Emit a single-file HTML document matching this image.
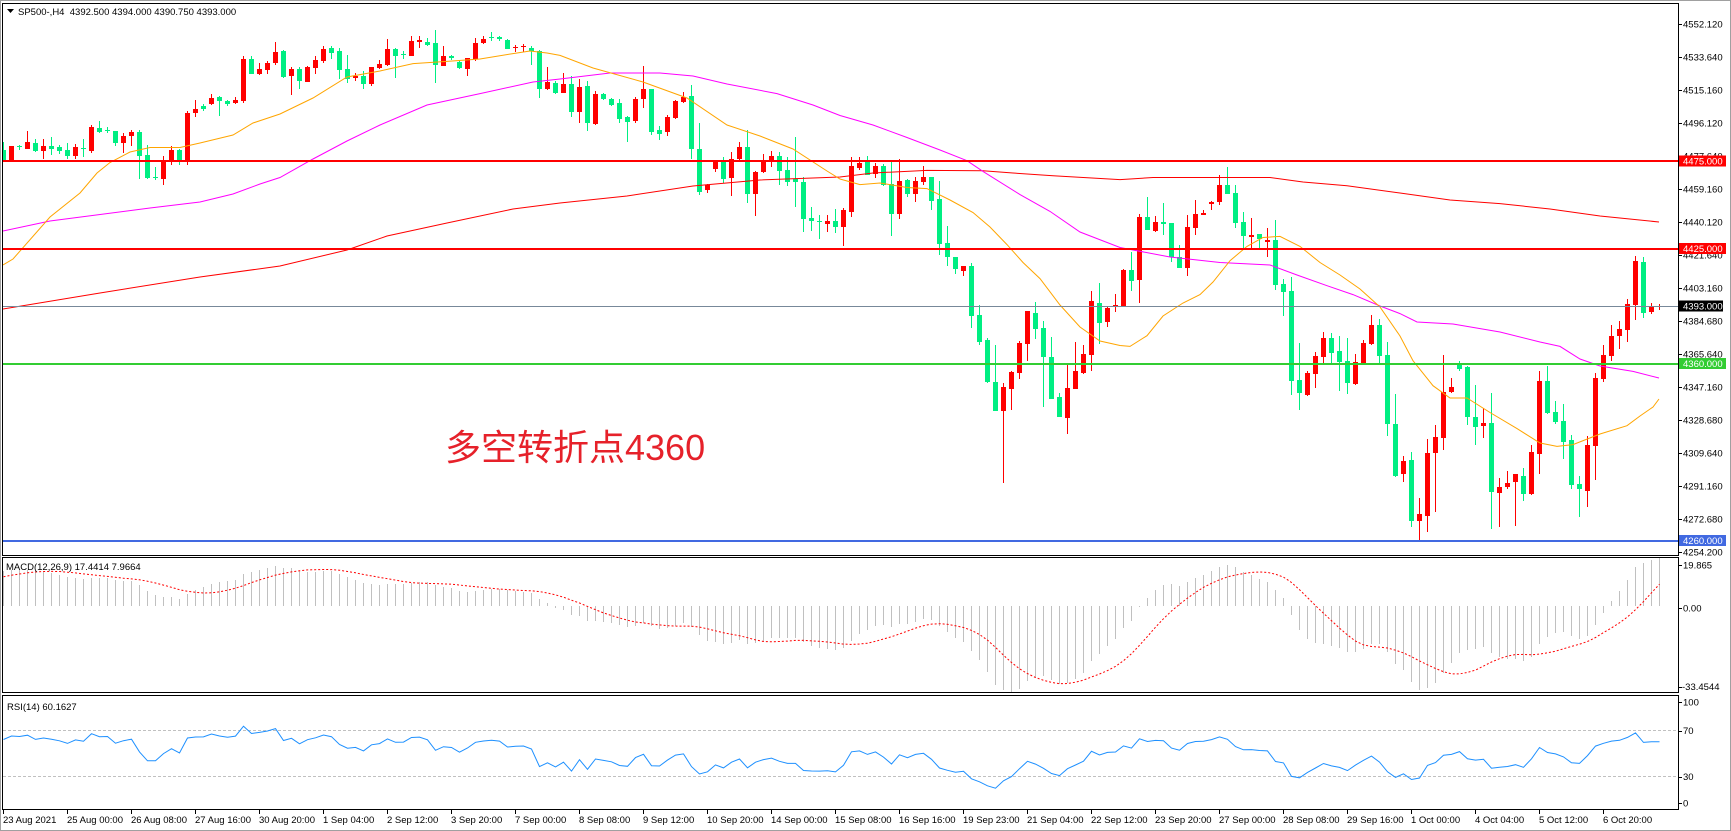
<!DOCTYPE html>
<html><head><meta charset="utf-8">
<style>
html,body{margin:0;padding:0;background:#fff;}
svg{display:block;}
text{font-family:"Liberation Sans",sans-serif;font-size:9.5px;fill:#000;}
</style></head>
<body>
<svg id="c" width="1731" height="831" viewBox="0 0 1731 831" xmlns="http://www.w3.org/2000/svg">
<defs>
<clipPath id="cm"><rect x="3" y="4" width="1675" height="551"/></clipPath>
<clipPath id="cd"><rect x="3" y="558" width="1675" height="134"/></clipPath>
<clipPath id="cr"><rect x="3" y="696" width="1675" height="113"/></clipPath>
</defs>
<rect width="1731" height="831" fill="#fff"/>
<g id="macdg" clip-path="url(#cd)"></g>
<g id="rsig" clip-path="url(#cr)">
<line x1="3" y1="730.5" x2="1678" y2="730.5" stroke="#c0c0c0" stroke-dasharray="3,2"/>
<line x1="3" y1="776.5" x2="1678" y2="776.5" stroke="#c0c0c0" stroke-dasharray="3,2"/>
</g>
<g id="main" clip-path="url(#cm)"></g>
<g clip-path="url(#cm)" shape-rendering="crispEdges">
<rect x="3" y="160" width="1675" height="2" fill="#ff0000"/>
<rect x="3" y="248" width="1675" height="2" fill="#ff0000"/>
<rect x="3" y="306" width="1675" height="1" fill="#778899"/>
<rect x="3" y="363" width="1675" height="2" fill="#32cd32"/>
<rect x="3" y="540" width="1675" height="2" fill="#4169e1"/>
</g>
<text x="445" y="460" style="font-family:'Liberation Sans','Noto Sans CJK SC',sans-serif;font-size:36px;fill:#e6212a;">多空转折点4360</text>

<!-- frames -->
<g fill="none" stroke="#000" stroke-width="1" shape-rendering="crispEdges">
<rect x="2.5" y="3.5" width="1676" height="552"/>
<rect x="2.5" y="557.5" width="1676" height="135"/>
<rect x="2.5" y="695.5" width="1676" height="114"/>
</g>
<rect x="0.5" y="0.5" width="1730" height="830" fill="none" stroke="#a0a0a0" shape-rendering="crispEdges"/>

<!-- header -->
<polygon points="7,9 14,9 10.5,13" fill="#000"/>
<text x="18" y="15" xml:space="preserve">SP500-,H4  4392.500 4394.000 4390.750 4393.000</text>
<text x="6" y="570">MACD(12,26,9) 17.4414 7.9664</text>
<text x="7" y="710">RSI(14) 60.1627</text>

<!-- price axis -->
<g id="pticks" stroke="#000" shape-rendering="crispEdges"></g>
<g>
<text x="1683" y="27.7">4552.120</text>
<text x="1683" y="60.7">4533.640</text>
<text x="1683" y="93.7">4515.160</text>
<text x="1683" y="126.7">4496.120</text>
<text x="1683" y="159.7">4477.640</text>
<text x="1683" y="192.7">4459.160</text>
<text x="1683" y="225.7">4440.120</text>
<text x="1683" y="258.7">4421.640</text>
<text x="1683" y="291.7">4403.160</text>
<text x="1683" y="324.7">4384.680</text>
<text x="1683" y="357.7">4365.640</text>
<text x="1683" y="390.7">4347.160</text>
<text x="1683" y="423.7">4328.680</text>
<text x="1683" y="456.7">4309.640</text>
<text x="1683" y="489.7">4291.160</text>
<text x="1683" y="522.7">4272.680</text>
<text x="1683" y="555.7">4254.200</text>
</g>
<!-- level boxes -->
<g shape-rendering="crispEdges">
<rect x="1679" y="155.5" width="47" height="11" fill="#ff0000"/>
<rect x="1679" y="243" width="47" height="11" fill="#ff0000"/>
<rect x="1679" y="300.5" width="44" height="11" fill="#000"/>
<rect x="1679" y="358" width="47" height="11" fill="#32cd32"/>
<rect x="1679" y="535" width="47" height="11" fill="#4169e1"/>
</g>
<text x="1683" y="164.5" style="fill:#fff">4475.000</text>
<text x="1683" y="252" style="fill:#fff">4425.000</text>
<text x="1683" y="309.5" style="fill:#fff">4393.000</text>
<text x="1683" y="367" style="fill:#fff">4360.000</text>
<text x="1683" y="544" style="fill:#fff">4260.000</text>

<!-- macd / rsi axis -->
<text x="1683" y="568.5">19.865</text>
<text x="1683" y="611.7">0.00</text>
<text x="1682" y="690">-33.4544</text>
<text x="1683" y="705.7">100</text>
<text x="1683" y="734">70</text>
<text x="1683" y="780">30</text>
<text x="1683" y="806.7">0</text>

<!-- date axis -->
<g id="dticks" stroke="#000" shape-rendering="crispEdges"></g>
<g>
<text x="3" y="823">23 Aug 2021</text>
<text x="67" y="823">25 Aug 00:00</text>
<text x="131" y="823">26 Aug 08:00</text>
<text x="195" y="823">27 Aug 16:00</text>
<text x="259" y="823">30 Aug 20:00</text>
<text x="323" y="823">1 Sep 04:00</text>
<text x="387" y="823">2 Sep 12:00</text>
<text x="451" y="823">3 Sep 20:00</text>
<text x="515" y="823">7 Sep 00:00</text>
<text x="579" y="823">8 Sep 08:00</text>
<text x="643" y="823">9 Sep 12:00</text>
<text x="707" y="823">10 Sep 20:00</text>
<text x="771" y="823">14 Sep 00:00</text>
<text x="835" y="823">15 Sep 08:00</text>
<text x="899" y="823">16 Sep 16:00</text>
<text x="963" y="823">19 Sep 23:00</text>
<text x="1027" y="823">21 Sep 04:00</text>
<text x="1091" y="823">22 Sep 12:00</text>
<text x="1155" y="823">23 Sep 20:00</text>
<text x="1219" y="823">27 Sep 00:00</text>
<text x="1283" y="823">28 Sep 08:00</text>
<text x="1347" y="823">29 Sep 16:00</text>
<text x="1411" y="823">1 Oct 00:00</text>
<text x="1475" y="823">4 Oct 04:00</text>
<text x="1539" y="823">5 Oct 12:00</text>
<text x="1603" y="823">6 Oct 20:00</text>
</g>
</svg>
<script>
(function(){
const S=2.8;
const raw=`0 398 420 448 448 G
1 409 409 450 450 R
2 405 408 412 420 G
3 366 398 416 416 R
4 390 399 422 426 G
5 390 409 422 444 R
6 384 409 416 433 G
7 406 412 424 430 G
8 400 420 437 446 G
9 403 411 436 444 R
10 390 413 417 440 G
11 350 355 422 428 R
12 340 357 369 371 G
13 356 364 368 372 G
14 367 367 399 410 G
15 372 381 399 427 R
16 363 370 382 408 R
17 363 370 436 500 G
18 407 434 497 502 G
19 468 495 497 505 G
20 437 454 500 517 R
21 408 420 450 462 R
22 418 420 448 461 G
23 312 316 450 461 R
24 280 305 315 327 R
25 292 298 304 310 G
26 263 273 291 294 R
27 268 271 284 325 G
28 280 283 290 298 G
29 272 280 287 290 R
30 157 165 283 288 R
31 157 165 206 206 G
32 175 193 206 209 R
33 170 176 196 206 R
34 118 146 176 181 R
35 140 143 215 218 G
36 188 193 212 265 R
37 187 193 228 250 G
38 185 188 229 229 R
39 158 168 189 208 R
40 128 137 171 175 R
41 130 133 147 164 G
42 135 143 195 220 G
43 155 194 220 233 G
44 204 213 218 228 R
45 200 213 236 250 G
46 188 188 234 240 R
47 168 178 190 192 R
48 108 137 182 185 R
49 133 137 156 217 G
50 142 151 155 164 G
51 100 115 156 158 R
52 100 112 117 135 R
53 107 117 125 128 G
54 83 120 183 233 G
55 129 157 184 186 R
56 153 158 162 167 G
57 168 173 189 192 G
58 162 162 192 212 R
59 107 120 165 170 R
60 100 110 119 122 R
61 90 103 104 116 G
62 101 104 108 116 G
63 108 112 136 138 G
64 125 131 133 146 R
65 124 130 132 146 R
66 130 133 143 183 G
67 140 143 248 273 G
68 188 229 248 251 R
69 228 232 260 263 G
70 205 236 259 259 R
71 213 236 313 328 G
72 222 244 313 343 R
73 228 241 343 368 G
74 256 264 346 350 R
75 259 263 278 280 G
76 274 277 293 298 G
77 277 288 332 343 G
78 324 328 341 398 G
79 272 277 338 345 R
80 185 250 277 303 R
81 249 249 370 377 G
82 353 364 374 393 G
83 322 327 370 380 R
84 280 283 329 332 R
85 258 272 286 287 R
86 238 269 416 446 G
87 343 416 537 545 G
88 515 518 533 541 R
89 448 454 472 481 R
90 440 453 500 511 G
91 426 445 497 548 R
92 398 412 445 448 R
93 364 412 542 567 G
94 480 482 542 604 R
95 432 453 481 485 R
96 423 437 451 467 R
97 425 437 479 517 G
98 440 476 509 520 G
99 383 500 509 580 G
100 496 510 612 650 G
101 580 610 620 646 G
102 601 620 622 668 G
103 602 619 626 650 R
104 584 619 635 651 G
105 582 588 635 690 R
106 440 465 594 607 R
107 440 455 469 476 R
108 437 453 490 490 G
109 455 465 488 497 R
110 460 465 517 520 G
111 453 515 598 660 G
112 445 507 598 612 R
113 500 503 542 552 G
114 495 507 542 565 R
115 465 496 510 518 R
116 496 496 562 588 G
117 507 557 683 713 G
118 633 680 720 745 G
119 720 720 752 767 G
120 745 745 758 772 R
121 735 745 885 918 G
122 853 882 957 965 G
123 945 952 1070 1072 G
124 965 1070 1150 1150 G
125 1073 1083 1150 1352 R
126 1038 1042 1088 1147 R
127 955 960 1043 1060 R
128 871 871 962 1010 R
129 846 875 920 948 G
130 900 918 1000 1140 G
131 943 1000 1116 1116 G
132 1100 1112 1167 1167 G
133 1020 1086 1170 1215 R
134 958 1040 1088 1090 R
135 966 991 1043 1047 R
136 815 843 993 1038 R
137 792 847 903 962 G
138 858 862 902 915 R
139 823 855 860 873 R
140 752 755 857 857 R
141 705 757 786 815 G
142 600 607 783 848 R
143 552 608 643 643 G
144 605 622 647 650 R
145 568 622 627 657 G
146 624 624 720 733 G
147 686 720 749 749 G
148 602 636 749 773 R
149 560 600 637 658 R
150 588 596 601 601 R
151 563 566 571 588 R
152 490 518 566 573 R
153 468 518 543 543 G
154 518 540 623 637 G
155 594 622 660 693 G
156 610 658 663 693 R
157 656 656 668 695 G
158 638 672 677 720 R
159 617 672 797 812 G
160 781 796 817 884 G
161 775 815 1066 1105 G
162 960 1065 1099 1147 G
163 1040 1044 1107 1110 R
164 985 997 1046 1085 R
165 930 945 999 1017 R
166 932 945 987 1017 G
167 940 983 1013 1095 G
168 946 1012 1071 1102 G
169 991 1013 1075 1077 R
170 952 960 1017 1020 R
171 882 910 963 967 R
172 893 910 998 1018 G
173 958 995 1187 1222 G
174 1103 1187 1333 1335 G
175 1277 1290 1328 1350 R
176 1265 1288 1458 1475 G
177 1393 1440 1458 1518 R
178 1228 1268 1444 1490 R
179 1190 1223 1267 1433 R
180 993 1098 1225 1260 R
181 1057 1083 1098 1100 R
182 1012 1018 1033 1040 G
183 1025 1028 1168 1190 G
184 1077 1168 1195 1245 G
185 1142 1183 1192 1225 R
186 1100 1183 1377 1480 G
187 1337 1363 1380 1475 R
188 1318 1352 1363 1370 R
189 1326 1328 1350 1472 R
190 1310 1333 1382 1402 G
191 1245 1265 1384 1387 R
192 1038 1068 1270 1327 R
193 1025 1066 1156 1160 G
194 1123 1153 1182 1188 G
195 1130 1178 1237 1285 G
196 1218 1232 1357 1370 G
197 1333 1355 1370 1448 G
198 1222 1245 1375 1420 R
199 1043 1058 1248 1343 R
200 965 993 1060 1070 R
201 910 940 998 1010 R
202 898 920 942 977 R
203 837 850 925 957 R
204 716 730 853 897 R
205 720 733 875 891 G
206 848 858 873 880 R
207 852 857 859 867 R`;
const bars=raw.trim().split('\n').map(l=>{const a=l.trim().split(/\s+/);return {j:+a[0],wt:+a[1]/S,bt:+a[2]/S,bb:+a[3]/S,wb:+a[4]/S,c:a[5]};});
const RED='#ff0000',GRN='#00ee82';
let h='<g shape-rendering="crispEdges">';
for(const b of bars){
  const x=3+8*b.j, col=b.c==='R'?RED:GRN;
  const wt=Math.round(b.wt), wb=Math.round(b.wb);
  h+='<rect x="'+x+'" y="'+wt+'" width="1" height="'+Math.max(1,wb-wt)+'" fill="'+col+'"/>';
  let bt=Math.round(b.bt), bb=Math.round(b.bb); if(bb-bt<1) bb=bt+1;
  h+='<rect x="'+(x-2)+'" y="'+bt+'" width="5" height="'+(bb-bt)+'" fill="'+col+'"/>';
}
h+='</g>';
const orange=[[3,265],[13,259],[50,217],[80,193],[97,173],[110,162.5],[130,152],[150,147.5],[180,147.5],[200,143],[233,135],[253,123],[280,114],[313,98],[347,77],[380,71],[413,63.6],[447,61.4],[480,59],[513,53.6],[530,51],[547,53],[560,55.4],[593,68],[643,82],[687,98],[727,125],[760,136],[793,149],[827,171],[840,179],[860,184.6],[880,183],[907,187.5],[927,188.6],[950,200],[973,212.5],[990,227],[1007,244.6],[1023,262.5],[1040,278.6],[1060,305],[1080,327],[1100,341],[1120,345.5],[1130,346.4],[1147,335.7],[1163,316],[1183,303],[1200,294.6],[1213,282],[1230,260.7],[1247,246.4],[1263,237.5],[1280,236.4],[1300,246.4],[1320,262.5],[1340,275],[1360,289],[1380,307],[1400,336],[1413,360.7],[1433,385.7],[1450,398],[1467,398],[1490,412.5],[1517,428.6],[1540,443],[1557,446.4],[1573,444.6],[1600,434],[1627,425.7],[1640,416],[1653,407],[1659,399]];
const magenta=[[3,231],[50,221],[150,208],[200,202],[233,194],[260,184],[280,177.5],[313,159],[347,141],[380,125],[427,105],[480,93.6],[533,82],[560,79],[610,73],[660,73],[693,76],[727,84],[777,93.6],[813,105],[840,115.5],[873,125],[907,137.5],[940,150],[967,160.7],[983,171.4],[1020,194.6],[1050,211.4],[1080,232],[1120,247.5],[1170,257],[1220,262.5],[1270,265],[1297,275],[1327,285.7],[1353,294.6],[1380,306],[1400,313.6],[1417,322],[1453,324],[1500,332],[1540,342],[1560,346.4],[1580,359],[1600,366],[1633,371.4],[1659,378]];
const redma=[[3,309],[100,293],[200,277],[280,266],[347,250],[387,236],[447,223],[513,209],[560,203],[627,196],[693,186],[760,180],[840,177],[873,173],[927,170.4],[983,170.7],[1013,173],[1053,175.7],[1120,179.6],[1153,177.5],[1270,177.5],[1303,182],[1347,185.7],[1400,193],[1450,200],[1500,203.6],[1550,209],[1600,216],[1659,222]];
function pl(pts,col){return '<polyline fill="none" stroke="'+col+'" stroke-width="1" points="'+pts.map(p=>p[0]+','+p[1]).join(' ')+'"/>';}
h+=pl(redma,'#ff0000')+pl(magenta,'#ff00ff')+pl(orange,'#ffa500');
document.getElementById('main').innerHTML=h;

// indicators
const price=y=>4475-(y-161)/1.7642;
const closes=bars.map(b=>price(b.c==='R'?b.bt:b.bb));
const warm=[];
for(let k=0;k<150;k++) warm.push(4425+(k%2?3:-3));
for(let k=0;k<20;k++) warm.push(4425+55*k/19+(k%2?4:-3));
const all=warm.concat(closes), W=warm.length;
function ema(arr,p){const a=2/(p+1);let e=arr[0];return arr.map((v,i)=>i===0?e:(e=e+a*(v-e)));}
const e12=ema(all,12),e26=ema(all,26);
const macd=all.map((v,i)=>e12[i]-e26[i]);
const sig=macd.map((v,i)=>{let s=0,n=0;for(let k=Math.max(0,i-8);k<=i;k++){s+=macd[k];n++;}return s/n;});
const vm=macd.slice(W),vs=sig.slice(W);
const mx=Math.max(...vm,...vs),mn=Math.min(...vm,...vs);
const my=v=>558+(mx-v)/(mx-mn)*134;
let m='<g shape-rendering="crispEdges">';
const y0=my(0);
vm.forEach((v,i)=>{const x=3+8*i;const y1=my(v);const a=Math.round(Math.min(y0,y1)),b=Math.round(Math.max(y0,y1));m+='<rect x="'+x+'" y="'+a+'" width="1" height="'+Math.max(1,b-a)+'" fill="#c0c0c0"/>';});
m+='</g>';
m+='<polyline fill="none" stroke="#ff0000" stroke-width="1" stroke-dasharray="2,2" points="'+vs.map((v,i)=>(3.5+8*i)+','+my(v).toFixed(1)).join(' ')+'"/>';
document.getElementById('macdg').innerHTML=m;

const rsi=[];let ag=0,al=0;
for(let i=1;i<all.length;i++){const d=all[i]-all[i-1];const g=Math.max(d,0),l=Math.max(-d,0);
 if(i<=14){ag+=g/14;al+=l/14;}else{ag=(ag*13+g)/14;al=(al*13+l)/14;}
 rsi[i]=al===0?100:100-100/(1+ag/al);}
const rv=rsi.slice(W);
const ry=v=>696+(100-v)*1.143;
const rg=document.getElementById('rsig');
rg.insertAdjacentHTML('beforeend','<polyline fill="none" stroke="#1e90ff" stroke-width="1" points="'+rv.map((v,i)=>(3.5+8*i)+','+ry(v).toFixed(1)).join(' ')+'"/>');

// ticks
let t='';
[24,57,90,123,156,189,222,255,288,321,354,387,420,453,486,519,552].forEach(y=>{t+='<line x1="1679" y1="'+(y+0.5)+'" x2="1682" y2="'+(y+0.5)+'"/>';});
[565,608,687,702,731,777,803].forEach(y=>{t+='<line x1="1679" y1="'+(y+0.5)+'" x2="1682" y2="'+(y+0.5)+'"/>';});
document.getElementById('pticks').innerHTML=t;
let d='';
for(let k=0;k<26;k++){const x=3+64*k+0.5;d+='<line x1="'+x+'" y1="810" x2="'+x+'" y2="814"/>';}
document.getElementById('dticks').innerHTML=d;
})();
</script>
</body></html>
